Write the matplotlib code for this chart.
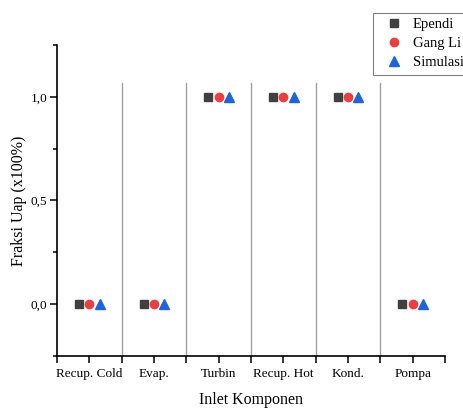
import matplotlib
matplotlib.use("Agg")

import matplotlib.pyplot as plt
from matplotlib.ticker import MultipleLocator, FuncFormatter
import numpy as np

plt.rcParams["font.family"] = ["Liberation Serif", "DejaVu Serif"]

komponen = ["Recup. Cold", "Evap.", "Turbin", "Recup. Hot", "Kond.", "Pompa"]
ependi = [0, 0, 1, 1, 1, 0]
gang_li = [0, 0, 1, 1, 1, 0]
simulasi = [0, 0, 1, 1, 1, 0]

x = np.arange(1, len(komponen) + 1)

fig = plt.figure(figsize=(4.64, 4.08), dpi=100)
ax = fig.add_axes([0.1228, 0.1275, 0.8362, 0.7622])

# garis pemisah antar komponen
for b in x[:-1] + 0.5:
    ax.axvline(b, ymin=0, ymax=0.878, color="#a0a0a0", lw=1.0, zorder=1)

ax.plot(x - 0.16, ependi, ls="none", marker="s", ms=5.5, color="#404040", label="Ependi", zorder=3)
ax.plot(x, gang_li, ls="none", marker="o", ms=6, color="#f03c3c", label="Gang Li", zorder=3)
ax.plot(x + 0.16, simulasi, ls="none", marker="^", ms=6.5, color="#1a66e0", label="Simulasi", zorder=3)

ax.set_xlim(0.5, len(komponen) + 0.5)
ax.set_ylim(-0.25, 1.25)
ax.set_xticks(x)
ax.set_xticklabels(komponen)
ax.xaxis.set_minor_locator(MultipleLocator(1.0, offset=0.5))
ax.set_yticks([0, 0.5, 1.0])
ax.yaxis.set_minor_locator(MultipleLocator(0.25))
ax.yaxis.set_major_formatter(FuncFormatter(lambda v, p: f"{v:.1f}".replace(".", ",")))

for s in ["top", "right"]:
    ax.spines[s].set_visible(False)
for s in ["left", "bottom"]:
    ax.spines[s].set_linewidth(1.2)

ax.tick_params(which="major", direction="out", length=5, width=1.1, labelsize=9.5, pad=4)
ax.tick_params(which="minor", direction="out", length=3, width=1.1)
ax.tick_params(axis="x", which="minor", length=5)
ax.tick_params(axis="y", which="major", pad=2)

ax.set_xlabel("Inlet Komponen", fontsize=11.5, labelpad=8)
ax.set_ylabel("Fraksi Uap (x100%)", fontsize=11.5)
ax.yaxis.set_label_coords(-0.077, 0.5)

leg = fig.legend(loc="upper left", bbox_to_anchor=(0.803, 0.968), borderaxespad=0,
                 fontsize=10.5, frameon=True, fancybox=False, framealpha=1, edgecolor="#808080",
                 handletextpad=0.1, borderpad=0.35, labelspacing=0.4, handlelength=2.3)
leg.get_frame().set_linewidth(0.8)

fig.savefig("out.png", dpi=100)
